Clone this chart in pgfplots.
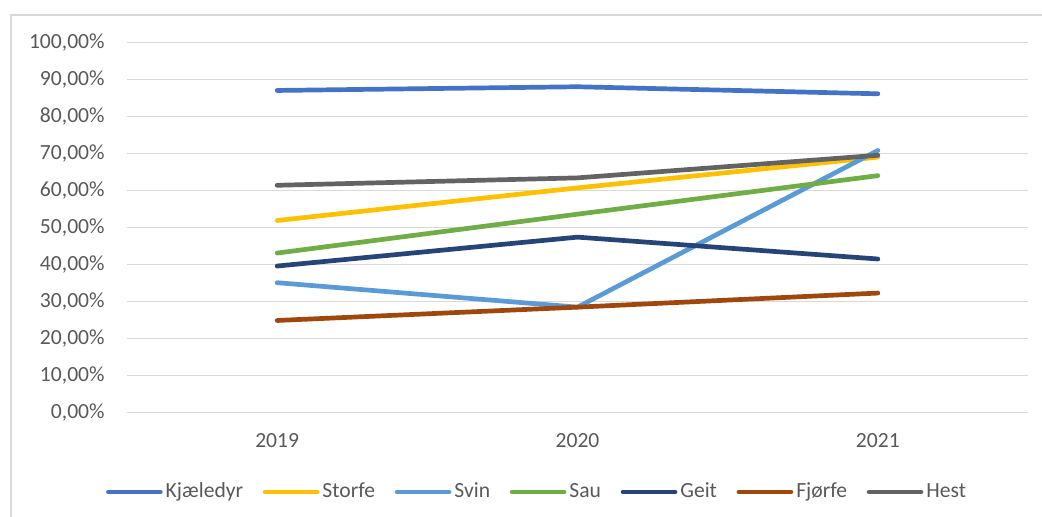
\documentclass[border=0pt]{standalone}
\usepackage{fontspec}
\setmainfont{Carlito}
\usepackage{pgfplots}
\pgfplotsset{compat=1.18}
\usepackage{pgfplotstable}
\definecolor{cKj}{HTML}{4472C4}
\definecolor{cSt}{HTML}{FFC000}
\definecolor{cSv}{HTML}{5B9BD5}
\definecolor{cSa}{HTML}{70AD47}
\definecolor{cGe}{HTML}{264478}
\definecolor{cFj}{HTML}{9E480E}
\definecolor{cHe}{HTML}{636363}
\definecolor{gridc}{HTML}{D9D9D9}
\definecolor{txt}{HTML}{595959}
\pgfplotstableread{
x Kj St Sv Sa Ge Fj He
0 87.0 51.9 35.1 43.1 39.6 24.9 61.4
1 88.0 60.7 28.5 53.6 47.4 28.5 63.4
2 86.1 69.0 70.8 64.0 41.5 32.3 69.5
}\data
\begin{document}
\begin{tikzpicture}
\useasboundingbox (-63.5pt,-51.65pt) rectangle (457.5pt,206.35pt);
\draw[gridc, line width=0.8pt] (-58pt,-60pt) -- (-58pt,198.85pt) -- (460pt,198.85pt);
\begin{axis}[
  at={(0pt,0pt)}, anchor=south west,
  scale only axis, width=450.5pt, height=185.2pt,
  xmin=-0.5, xmax=2.5, ymin=0, ymax=100,
  xtick={0,1,2}, xticklabels={2019,2020,2021},
  ytick={0,10,...,100},
  yticklabels={{0,00\%},{10,00\%},{20,00\%},{30,00\%},{40,00\%},{50,00\%},{60,00\%},{70,00\%},{80,00\%},{90,00\%},{100,00\%}},
  /pgf/number format/assume math mode=true,
  ymajorgrids, major grid style={gridc, line width=0.6pt},
  axis line style={draw=none}, tick style={draw=none},
  ticklabel style={font=\fontsize{10.8}{12}\selectfont, text=txt, inner sep=0pt},
  yticklabel style={anchor=east, xshift=-11pt},
  xticklabel style={anchor=base, yshift=-17.3pt},
  clip=false,
  legend columns=7,
  legend style={at={(0.454,-0.214)}, anchor=center, draw=none, fill=none,
    font=\fontsize{10.8}{12}\selectfont, text=txt,
    nodes={inner sep=0pt},
    column sep=1.5pt,
    /tikz/every even column/.append style={column sep=9.8pt}},
  legend image code/.code={\draw[#1, line cap=round] (0pt,0pt) -- (26pt,0pt);},
  every axis plot/.append style={line width=2.35pt, line join=round, line cap=round, mark=none},
]
\addplot[cKj] table[x=x,y=Kj]{\data};
\addplot[cSt] table[x=x,y=St]{\data};
\addplot[cSv] table[x=x,y=Sv]{\data};
\addplot[cSa] table[x=x,y=Sa]{\data};
\addplot[cGe] table[x=x,y=Ge]{\data};
\addplot[cFj] table[x=x,y=Fj]{\data};
\addplot[cHe] table[x=x,y=He]{\data};
\legend{Kjæledyr,Storfe,Svin,Sau,Geit,Fjørfe,Hest}
\end{axis}
\end{tikzpicture}
\end{document}
